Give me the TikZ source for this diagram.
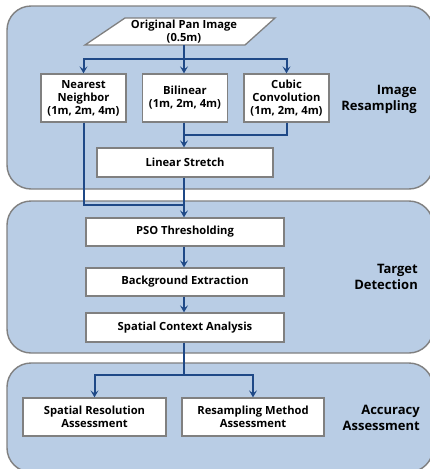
\documentclass[tikz,border=0pt]{standalone}
\usepackage{fontspec}
\setmainfont{Open Sans}
\usetikzlibrary{arrows.meta}
\definecolor{panelfill}{RGB}{185,205,229}
\definecolor{panelline}{RGB}{128,128,128}
\definecolor{arrowblue}{RGB}{31,73,135}
\tikzset{
  panel/.style={draw=panelline, fill=panelfill, line width=1.4pt, rounded corners=24pt},
  boxnode/.style={draw=panelline, fill=white, line width=1.3pt, inner sep=0pt, align=center,
    font=\fontsize{11.2}{13}\selectfont\bfseries},
  tag/.style={align=right, anchor=east, inner sep=0pt, font=\fontsize{13}{16}\selectfont\bfseries},
  flow/.style={draw=arrowblue, line width=2pt},
  arr/.style={flow, -{Stealth[length=7pt,width=8pt,inset=3pt]}},
}
\begin{document}
\begin{tikzpicture}[x=1pt,y=-1pt]
\useasboundingbox (0,0) rectangle (430,469);
\begin{scope}
\clip (0,0) rectangle (430,469);
\draw[panel] (7,6) rectangle (433,189);
\draw[panel] (7,201) rectangle (433,353);
\draw[panel] (7,363) rectangle (433,472);
\end{scope}
% input trapezoid
\draw[draw=panelline, fill=white, line width=1.3pt] (125,18) -- (275,18) -- (245,45) -- (85,45) -- cycle;
\node[inner sep=0pt, minimum height=27pt, align=center, font=\fontsize{11.2}{13}\selectfont\bfseries] (pan) at (184,31.5) {Original Pan Image\\(0.5m)};
% boxes
\node[boxnode, minimum width=85pt, minimum height=48pt] (nn) at (83.5,98) {Nearest\\Neighbor\\(1m, 2m, 4m)};
\node[boxnode, minimum width=85pt, minimum height=48pt] (bl) at (185,98) {Bilinear\\(1m, 2m, 4m)};
\node[boxnode, minimum width=85pt, minimum height=48pt] (cc) at (286.5,98) {Cubic\\Convolution\\(1m, 2m, 4m)};
\node[boxnode, minimum width=176pt, minimum height=29pt] (ls) at (185,162.5) {Linear Stretch};
\node[boxnode, minimum width=198pt, minimum height=28pt] (pso) at (185,232) {PSO Thresholding};
\node[boxnode, minimum width=198pt, minimum height=28pt] (be) at (185,282) {Background Extraction};
\node[boxnode, minimum width=198pt, minimum height=29pt] (sca) at (185,327.5) {Spatial Context Analysis};
\node[boxnode, minimum width=143pt, minimum height=38pt] (sra) at (94.5,417) {Spatial Resolution\\Assessment};
\node[boxnode, minimum width=142pt, minimum height=38pt] (rma) at (253,417) {Resampling Method\\Assessment};
% labels
\node[tag] (t1) at (417,99) {Image\\Resampling};
\node[tag] (t2) at (418,277) {Target\\Detection};
\node[tag] (t3) at (420,418) {Accuracy\\Assessment};
% connectors
\coordinate (j1) at (184,59);
\coordinate (j2) at (184,135);
\coordinate (j3) at (184,205);
\coordinate (j4) at (184,375);
\draw[flow] (pan.south -| j1) -- (j1);
\draw[arr] (j1) -| (nn.north);
\draw[arr] (j1) -- (j1 |- bl.north);
\draw[arr] (j1) -| (cc.north);
\draw[arr] (bl.south -| j1) -- (ls.north -| j1);
\draw[flow] (cc.south) |- (j2);
\draw[flow] (nn.south) |- (j3);
\draw[arr] (ls.south -| j1) -- (pso.north -| j1);
\draw[arr] (pso.south -| j1) -- (be.north -| j1);
\draw[arr] (be.south -| j1) -- (sca.north -| j1);
\draw[flow] (sca.south -| j1) -- (j4);
\draw[arr] (j4) -| (sra.north);
\draw[arr] (j4) -| (rma.north);
\end{tikzpicture}
\end{document}
